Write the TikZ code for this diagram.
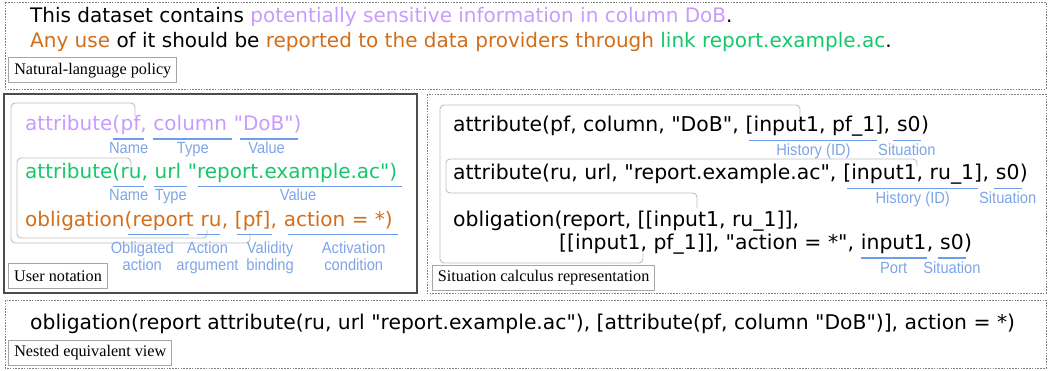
\documentclass[tikz,border=0pt]{standalone}
\usepackage{fontspec}
\usetikzlibrary{calc}
\newfontfamily\dvs[Ligatures=TeXOff]{DejaVu Sans}
\newfontfamily\lsans{Liberation Sans}
\newfontfamily\lserif{Liberation Serif}
\definecolor{purp}{RGB}{200,155,255}
\definecolor{grn}{RGB}{20,200,105}
\definecolor{orng}{RGB}{210,110,25}
\definecolor{lblblue}{RGB}{125,165,232}
\definecolor{ulblue}{RGB}{110,158,235}
\definecolor{frm}{RGB}{130,130,130}
\definecolor{brk}{RGB}{190,190,190}
\newcommand\spL{6.36pt}
\newcommand\spR{6.48pt}
% #1 seg node, #2 label name, #3 dx start, #4 dx end, #5 underline drop, #6 label dx, #7 label drop, #8 text
\newcommand\ulab[8]{%
  \draw[ul] ($(#1.base west)+(#3,#5)$) -- ($(#1.base east)+(#4,#5)$);
  \node[lbl] (#2) at ($(#1.base)+({(#3+(#4))/2+(#6)},#7)$) {\scalebox{1}[1.1]{#8}};}
% #1 seg node, #2 label name, #3 dx start, #4 dx end, #5 label dx, #6 line1, #7 line2
\newcommand\ulabtwo[7]{%
  \draw[ul] ($(#1.base west)+(#3,8)$) -- ($(#1.base east)+(#4,8)$);
  \node[lbl] (#2a) at ($(#1.base)+({(#3+(#4))/2+(#5)},26.5)$) {\scalebox{1}[1.1]{#6}};
  \node[lbl] (#2b) at ($(#1.base)+({(#3+(#4))/2+(#5)},44)$) {\scalebox{1}[1.1]{#7}};}
\begin{document}
\begin{tikzpicture}[x=1pt,y=-1pt,
  code/.style={inner sep=0pt, anchor=base west, font=\dvs\fontsize{20}{24}\selectfont},
  codeR/.style={inner sep=0pt, anchor=base west, font=\dvs\fontsize{20.4}{24}\selectfont},
  lbl/.style={inner sep=0pt, anchor=base, font=\lsans\fontsize{14.7}{17}\selectfont, text=lblblue},
  ul/.style={draw=ulblue, line width=1.8pt},
  capbox/.style={draw=gray!70, line width=0.8pt, fill=white, font=\lserif\fontsize{16.2}{19}\selectfont, inner xsep=5.5pt, inner ysep=0pt, minimum height=25pt, anchor=north west},
  dframe/.style={draw=frm, line width=0.8pt, dash pattern=on 1.6pt off 1.2pt},
  sframe/.style={draw=gray!60!black, line width=1.1pt},
  bracket/.style={draw=brk, line width=0.9pt, rounded corners=4pt},
]
\useasboundingbox (0,0) rectangle (1051,371);
% frames
\draw[dframe] (5,2) rectangle (1046,89);
\draw[sframe] (4,94) rectangle (417,293);
\draw[dframe] (427,94) rectangle (1046,293);
\draw[dframe] (5,300) rectangle (1046,368);
% brackets
\draw[bracket] (135,117) -- (135,103) -- (11,103) -- (11,243) -- (250,243) -- (250,233);
\draw[bracket] (131,166) -- (131,158) -- (17,158) -- (17,238) -- (207,238) -- (207,230);
\draw[bracket] (800,118) -- (800,105) -- (440,105) -- (440,263) -- (643,263) -- (643,253);
\draw[bracket] (917,166) -- (917,159) -- (446,159) -- (446,193) -- (697,193) -- (697,208);
% top text
\node[code] (tl1) at (30,23) {This dataset contains \textcolor{purp}{potentially sensitive information in column DoB}.};
\node[code] (tl2) at (30,47.5) {\textcolor{orng}{Any use} of it should be \textcolor{orng}{reported to the data providers through} \textcolor{grn}{link report.example.ac}.};
% user notation line 1
\node[code,text=purp] (p1) at (25,131) {attribute(};
\node[code,text=purp] (p2) at (p1.base east) {pf,};
\node[code,text=purp] (p3) at ([xshift=\spL]p2.base east) {column};
\node[code,text=purp] (p4) at ([xshift=\spL]p3.base east) {"DoB")};
\ulab{p2}{n1}{-7}{-3}{8}{0}{22.5}{Name}
\ulab{p3}{ty1}{0}{5}{8}{0}{22.5}{Type}
\ulab{p4}{v1}{6}{-4}{8}{-2}{22.5}{Value}
% user notation line 2
\node[code,text=grn] (g1) at (25,178.5) {attribute(};
\node[code,text=grn] (g2) at (g1.base east) {ru,};
\node[code,text=grn] (g3) at ([xshift=\spL]g2.base east) {url};
\node[code,text=grn] (g4) at ([xshift=\spL]g3.base east) {"report.example.ac")};
\ulab{g2}{n2}{-7}{-4}{8}{0}{22.5}{Name}
\ulab{g3}{ty2}{0}{6}{8}{0}{22.5}{Type}
\ulab{g4}{v2}{10}{5}{8}{-2}{22.5}{Value}
% user notation line 3
\node[code,text=orng] (o1) at (25,226.5) {obligation(};
\node[code,text=orng] (o2) at (o1.base east) {report};
\node[code,text=orng] (o3) at ([xshift=\spL]o2.base east) {ru};
\node[code,text=orng] (o4) at (o3.base east) {,};
\node[code,text=orng] (o5) at ([xshift=\spL]o4.base east) {[pf]};
\node[code,text=orng] (o6) at (o5.base east) {,};
\node[code,text=orng] (o7) at ([xshift=\spL]o6.base east) {action = *)};
\ulabtwo{o2}{oa}{-5}{-5}{-16}{Obligated}{action}
\ulabtwo{o3}{aa}{-3}{-2}{-1}{Action}{argument}
\ulabtwo{o5}{vb}{2}{1}{16}{Validity}{binding}
\ulabtwo{o7}{ac}{4}{5}{11}{Activation}{condition}
% situation calculus line 1
\node[codeR] (r1a) at (453,132) {attribute(pf, column, "DoB",};
\node[codeR] (r1b) at ([xshift=\spR]r1a.base east) {[input1, pf\_1]};
\node[codeR] (r1c) at (r1b.base east) {,};
\node[codeR] (r1d) at ([xshift=\spR]r1c.base east) {s0};
\node[codeR] (r1e) at (r1d.base east) {)};
\ulab{r1b}{h1}{4}{-6}{8.5}{0}{24}{History (ID)}
\ulab{r1d}{s1}{-4}{0}{8.5}{0}{24}{Situation}
% line 2
\node[codeR] (r2a) at (453,180) {attribute(ru, url, "report.example.ac",};
\node[codeR] (r2b) at ([xshift=\spR]r2a.base east) {[input1, ru\_1]};
\node[codeR] (r2c) at (r2b.base east) {,};
\node[codeR] (r2d) at ([xshift=\spR]r2c.base east) {s0};
\node[codeR] (r2e) at (r2d.base east) {)};
\ulab{r2b}{h2}{4}{-4}{8.5}{0}{23.5}{History (ID)}
\ulab{r2d}{s2}{-2}{2}{8.5}{0}{23.5}{Situation}
% lines 3-4
\node[codeR] (r3) at (453,226.5) {obligation(report, [[input1, ru\_1]],};
\node[codeR] (r4a) at (559,250) {[[input1, pf\_1]], "action = *",};
\node[codeR] (r4b) at ([xshift=\spR]r4a.base east) {input1};
\node[codeR] (r4c) at (r4b.base east) {,};
\node[codeR] (r4d) at ([xshift=\spR]r4c.base east) {s0};
\node[codeR] (r4e) at (r4d.base east) {)};
\ulab{r4b}{pt}{0}{0}{8}{0}{23}{Port}
\ulab{r4d}{s4}{-2}{2}{8}{0}{23}{Situation}
% bottom
\node[code,font=\dvs\fontsize{20.3}{24}\selectfont] (bt) at (30,329) {obligation(report attribute(ru, url "report.example.ac"), [attribute(pf, column "DoB")], action = *)};
% captions
\node[capbox] (c1) at (8.4,57.5) {Natural-language policy};
\node[capbox] (c2) at (8.3,263.3) {User notation};
\node[capbox] (c3) at (432,265) {Situation calculus representation};
\node[capbox] (c4) at (8.4,339.5) {Nested equivalent view};
\end{tikzpicture}
\end{document}
